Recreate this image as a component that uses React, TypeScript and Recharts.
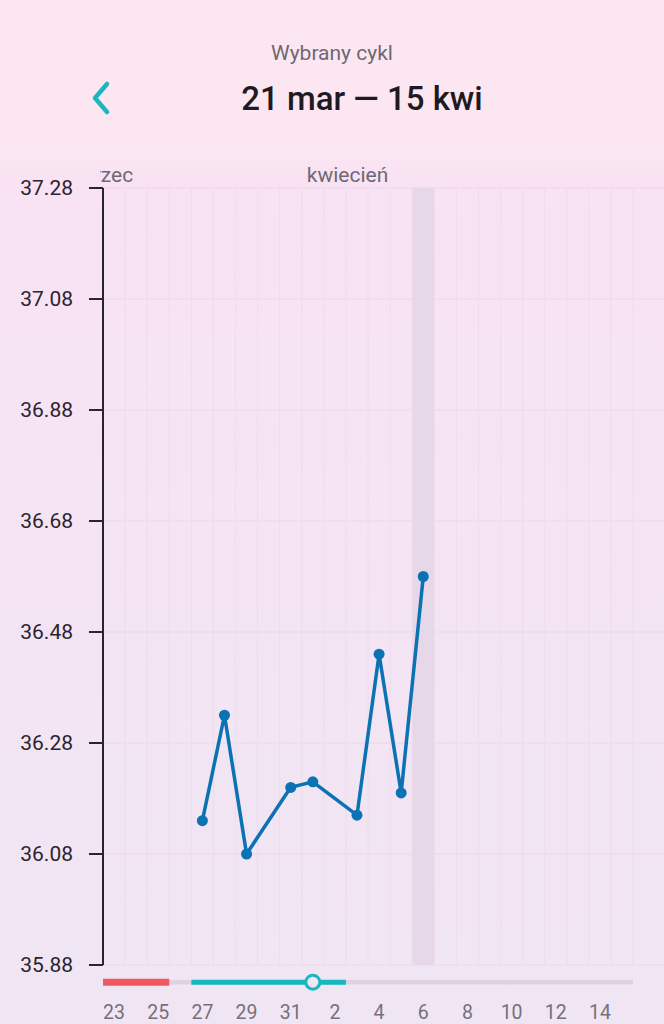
import React from 'react';
import {
    ComposedChart,
    Line,
    XAxis,
    YAxis,
    CartesianGrid,
    ReferenceArea,
    ReferenceLine,
    ReferenceDot,
} from 'recharts';

// dni widoczne na osi (23 mar .. 15 kwi), indeks = pozycja na osi X
const dayNumbers = [23, 24, 25, 26, 27, 28, 29, 30, 31, 1, 2, 3, 4, 5, 6, 7, 8, 9, 10, 11, 12, 13, 14, 15];
const xTickIdx = [0, 2, 4, 6, 8, 10, 12, 14, 16, 18, 20, 22];

// pomiary temperatury
const measuredIdx = [4, 5, 6, 8, 9, 11, 12, 13, 14];
const temps = [36.14, 36.33, 36.08, 36.2, 36.21, 36.15, 36.44, 36.19, 36.58];

const yTicks = [35.88, 36.08, 36.28, 36.48, 36.68, 36.88, 37.08, 37.28];

// fazy cyklu
const periodDays = [0, 2];
const fertileDays = [4, 10];
const ovulationDay = 9;
const selectedDay = 14;

const months = [
    { label: 'marzec', startIdx: -2 },
    { label: 'kwiecień', startIdx: 9 },
];

const FONT = 'Roboto, "Noto Sans", sans-serif';
const BAR_Y = 35.849;

const data = measuredIdx.map((idx, i) => ({ idx, temp: temps[i] }));
const dayLines = dayNumbers.map((_, i) => i - 0.5).concat([dayNumbers.length - 0.5]);

const MonthLabel = (props: any) => {
    const { viewBox, value } = props;
    return (
        <g>
            <defs>
                <clipPath id="monthClip">
                    <rect x={100} y={150} width={564} height={40} />
                </clipPath>
            </defs>
            <text
                x={viewBox.x + 5}
                y={viewBox.y - 6}
                fill="#6f6874"
                fontSize={21}
                fontFamily={FONT}
                clipPath="url(#monthClip)"
            >
                {value}
            </text>
        </g>
    );
};

const App = (): JSX.Element => {
    return (
        <div
            style={{
                position: 'relative',
                width: 664,
                height: 1024,
                overflow: 'hidden',
                fontFamily: FONT,
                background:
                    'linear-gradient(180deg, #fbe6f2 0px, #fbe6f2 150px, #f8e2f3 180px, #f5e4f3 500px, #f0e6f3 1024px)',
            }}
        >
            <style>{`body{margin:0}`}</style>
            <div
                style={{
                    position: 'absolute',
                    top: 43,
                    left: 0,
                    width: 664,
                    textAlign: 'center',
                    fontSize: 21,
                    lineHeight: '21px',
                    color: '#6e6873',
                }}
            >
                Wybrany cykl
            </div>
            <svg style={{ position: 'absolute', left: 88, top: 80 }} width={26} height={36}>
                <polyline
                    points="19,4 7,18 19,32"
                    fill="none"
                    stroke="#1bb8bf"
                    strokeWidth={4.5}
                    strokeLinecap="round"
                    strokeLinejoin="round"
                />
            </svg>
            <div
                style={{
                    position: 'absolute',
                    top: 82,
                    left: 0,
                    width: 724,
                    textAlign: 'center',
                    fontSize: 33,
                    fontWeight: 500,
                    lineHeight: '33px',
                    color: '#1f1a22',
                }}
            >
                21 mar — 15 kwi
            </div>
            <div style={{ position: 'absolute', top: 0, left: 0 }}>
                <ComposedChart width={664} height={1024} data={data} margin={{ top: 188, right: 0, bottom: 0, left: 0 }}>
                    <ReferenceArea x1={selectedDay - 0.5} x2={selectedDay + 0.5} fill="#e6d8e8" fillOpacity={1} stroke="none" />
                    <CartesianGrid vertical={false} stroke="#ebd7e7" strokeWidth={1.2} />
                    {dayLines.map((x) => (
                        <ReferenceLine key={x} x={x} stroke="#efdbeb" strokeWidth={1} />
                    ))}
                    {months.map((m) => (
                        <ReferenceLine
                            key={m.label}
                            x={m.startIdx - 0.5}
                            stroke="none"
                            ifOverflow="visible"
                            label={<MonthLabel value={m.label} />}
                        />
                    ))}
                    <XAxis
                        dataKey="idx"
                        type="number"
                        domain={[-0.5, 24.9]}
                        allowDataOverflow
                        ticks={xTickIdx}
                        tickFormatter={(v: number) => String(dayNumbers[v])}
                        axisLine={false}
                        tickLine={false}
                        tickSize={0}
                        tickMargin={40}
                        height={59}
                        tick={{ fill: '#77707b', fontSize: 19.5, fontFamily: FONT }}
                    />
                    <YAxis
                        type="number"
                        domain={[35.88, 37.28]}
                        ticks={yTicks}
                        allowDataOverflow
                        width={103}
                        tickSize={14}
                        tickMargin={16}
                        tickFormatter={(v: number) => v.toFixed(2)}
                        axisLine={{ stroke: '#2a2430', strokeWidth: 2 }}
                        tickLine={{ stroke: '#2a2430', strokeWidth: 2 }}
                        tick={{ fill: '#2a2430', fontSize: 21, fontFamily: FONT }}
                    />
                    <ReferenceArea
                        x1={-0.5}
                        x2={dayNumbers.length - 0.5}
                        y1={BAR_Y - 0.004}
                        y2={BAR_Y + 0.004}
                        fill="#ddd2df"
                        fillOpacity={1}
                        stroke="none"
                        ifOverflow="visible"
                    />
                    <ReferenceArea
                        x1={periodDays[0] - 0.5}
                        x2={periodDays[1] + 0.5}
                        y1={BAR_Y - 0.0064}
                        y2={BAR_Y + 0.0064}
                        fill="#f05a5e"
                        fillOpacity={1}
                        stroke="none"
                        ifOverflow="visible"
                    />
                    <ReferenceArea
                        x1={fertileDays[0] - 0.5}
                        x2={fertileDays[1] + 0.5}
                        y1={BAR_Y - 0.0045}
                        y2={BAR_Y + 0.0045}
                        fill="#17b8bf"
                        fillOpacity={1}
                        stroke="none"
                        ifOverflow="visible"
                    />
                    <ReferenceDot
                        x={ovulationDay}
                        y={BAR_Y}
                        r={7}
                        fill="#f2e6f3"
                        stroke="#17b8bf"
                        strokeWidth={3}
                        ifOverflow="visible"
                    />
                    <Line
                        type="linear"
                        dataKey="temp"
                        stroke="#0b72b4"
                        strokeWidth={3.5}
                        dot={{ r: 5.5, fill: '#0b72b4', stroke: '#0b72b4', strokeWidth: 0 }}
                        activeDot={false}
                        isAnimationActive={false}
                    />
                </ComposedChart>
            </div>
        </div>
    );
};

export default App;
